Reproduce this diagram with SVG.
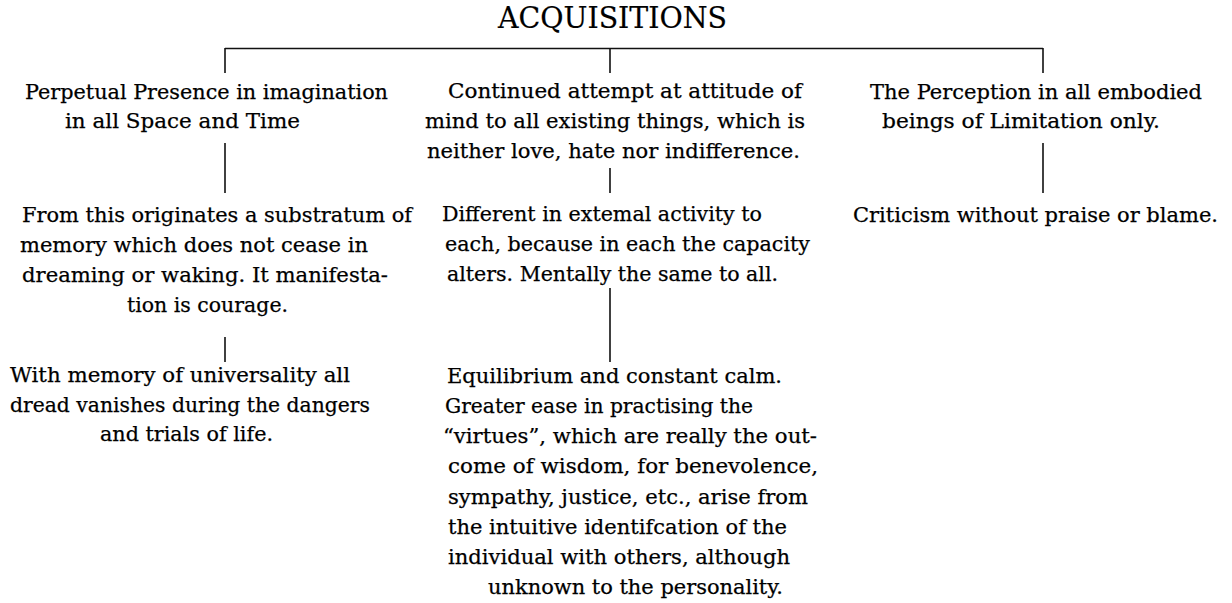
<svg xmlns="http://www.w3.org/2000/svg" width="1232" height="603" viewBox="0 0 1232 603">
<style>
text { font-family: "DejaVu Serif", "Liberation Serif", serif; font-size: 21px; fill: #000; stroke: #000; stroke-width: 0.25; }
.title { font-size: 29px; stroke-width: 0.2; }
.conn line { stroke: #111; stroke-width: 1.6; }
</style>
<rect width="1232" height="603" fill="#fff"/>
<g id="title">
<text class="title" x="498" y="28" textLength="229" lengthAdjust="spacingAndGlyphs">ACQUISITIONS</text>
</g>
<g class="conn" id="connectors">
<line x1="225" y1="48.5" x2="1043" y2="48.5"/>
<line x1="225" y1="48" x2="225" y2="73"/>
<line x1="610" y1="48" x2="610" y2="73"/>
<line x1="1043" y1="48" x2="1043" y2="73"/>
<line x1="225" y1="143" x2="225" y2="193"/>
<line x1="610" y1="168" x2="610" y2="193"/>
<line x1="1043" y1="143" x2="1043" y2="193"/>
<line x1="225" y1="337" x2="225" y2="362"/>
<line x1="610" y1="288" x2="610" y2="362"/>
</g>
<g id="perpetual">
<text x="25" y="99" textLength="363" lengthAdjust="spacingAndGlyphs">Perpetual Presence in imagination</text>
<text x="65" y="128" textLength="235" lengthAdjust="spacingAndGlyphs">in all Space and Time</text>
</g>
<g id="continued">
<text x="448" y="98" textLength="354" lengthAdjust="spacingAndGlyphs">Continued attempt at attitude of</text>
<text x="425" y="128" textLength="380" lengthAdjust="spacingAndGlyphs">mind to all existing things, which is</text>
<text x="427" y="158" textLength="373" lengthAdjust="spacingAndGlyphs">neither love, hate nor indifference.</text>
</g>
<g id="perception">
<text x="870" y="99" textLength="332" lengthAdjust="spacingAndGlyphs">The Perception in all embodied</text>
<text x="882" y="128" textLength="278" lengthAdjust="spacingAndGlyphs">beings of Limitation only.</text>
</g>
<g id="substratum">
<text x="22" y="222" textLength="390" lengthAdjust="spacingAndGlyphs">From this originates a substratum of</text>
<text x="20" y="252" textLength="348" lengthAdjust="spacingAndGlyphs">memory which does not cease in</text>
<text x="22" y="282" textLength="366" lengthAdjust="spacingAndGlyphs">dreaming or waking. It manifesta-</text>
<text x="127" y="312" textLength="161" lengthAdjust="spacingAndGlyphs">tion is courage.</text>
</g>
<g id="different">
<text x="442" y="221" textLength="320" lengthAdjust="spacingAndGlyphs">Different in extemal activity to</text>
<text x="445" y="251" textLength="365" lengthAdjust="spacingAndGlyphs">each, because in each the capacity</text>
<text x="447" y="281" textLength="331" lengthAdjust="spacingAndGlyphs">alters. Mentally the same to all.</text>
</g>
<g id="criticism">
<text x="853" y="222" textLength="365" lengthAdjust="spacingAndGlyphs">Criticism without praise or blame.</text>
</g>
<g id="universality">
<text x="10" y="382" textLength="340" lengthAdjust="spacingAndGlyphs">With memory of universality all</text>
<text x="10" y="412" textLength="360" lengthAdjust="spacingAndGlyphs">dread vanishes during the dangers</text>
<text x="100" y="441" textLength="173" lengthAdjust="spacingAndGlyphs">and trials of life.</text>
</g>
<g id="equilibrium">
<text x="447" y="383" textLength="335" lengthAdjust="spacingAndGlyphs">Equilibrium and constant calm.</text>
<text x="445" y="413" textLength="308" lengthAdjust="spacingAndGlyphs">Greater ease in practising the</text>
<text x="443" y="443" textLength="374" lengthAdjust="spacingAndGlyphs">“virtues”, which are really the out-</text>
<text x="448" y="473" textLength="370" lengthAdjust="spacingAndGlyphs">come of wisdom, for benevolence,</text>
<text x="448" y="504" textLength="360" lengthAdjust="spacingAndGlyphs">sympathy, justice, etc., arise from</text>
<text x="448" y="534" textLength="339" lengthAdjust="spacingAndGlyphs">the intuitive identifcation of the</text>
<text x="448" y="564" textLength="342" lengthAdjust="spacingAndGlyphs">individual with others, although</text>
<text x="488" y="594" textLength="295" lengthAdjust="spacingAndGlyphs">unknown to the personality.</text>
</g>
</svg>
